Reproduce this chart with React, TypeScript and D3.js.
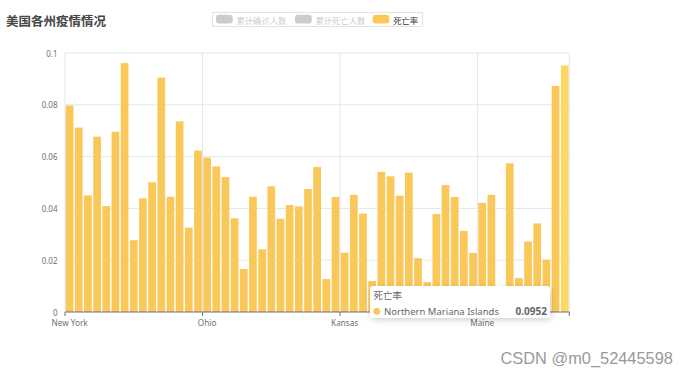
import React from "react";
import * as d3 from "d3";

const states: string[] = [
  "New York", "New Jersey", "Massachusetts", "Pennsylvania", "Illinois", "Michigan", "California",
  "Connecticut", "Florida", "Louisiana", "Georgia", "Texas", "Maryland", "Indiana", "Virginia",
  "Ohio", "Colorado", "Washington", "Rhode Island", "Tennessee", "North Carolina", "Missouri",
  "Arizona", "Alabama", "Wisconsin", "Mississippi", "South Carolina", "Nevada", "Iowa", "Utah",
  "Kansas", "Kentucky", "Delaware", "District of Columbia", "Nebraska", "Minnesota", "Oklahoma",
  "New Mexico", "Oregon", "Arkansas", "South Dakota", "Idaho", "New Hampshire", "Puerto Rico",
  "North Dakota", "Maine", "West Virginia", "Vermont", "Wyoming", "Hawaii", "Montana", "Alaska",
  "Guam", "Virgin Islands", "Northern Mariana Islands",
];

const deathRate: number[] = [
  0.0797, 0.0712, 0.045, 0.0677, 0.0409, 0.0696, 0.0961, 0.0277, 0.0439, 0.0501, 0.0905, 0.0445,
  0.0736, 0.0326, 0.0623, 0.0596, 0.0562, 0.0521, 0.0362, 0.0166, 0.0445, 0.0242, 0.0485, 0.036,
  0.0413, 0.0408, 0.0475, 0.056, 0.0127, 0.0444, 0.0229, 0.0452, 0.038, 0.012, 0.0541, 0.0524,
  0.0449, 0.0538, 0.0208, 0.0115, 0.0378, 0.049, 0.0444, 0.0313, 0.0228, 0.0421, 0.0452, 0,
  0.0574, 0.0131, 0.0272, 0.0342, 0.0202, 0.0873, 0.0952,
];

const yTicks: number[] = [0, 0.02, 0.04, 0.06, 0.08, 0.1];
const yTickLabels: string[] = ["0", "0.02", "0.04", "0.06", "0.08", "0.1"];
const labelEvery = 15;

const legendItems: string[] = ["累计确诊人数", "累计死亡人数", "死亡率"];
const legendActive: boolean[] = [false, false, true];

const title = "美国各州疫情情况";
const highlightIndex = 54;

const W = 692;
const H = 377;
const left = 65;
const right = 569.3;
const top = 53;
const bottom = 312;

const BAR = "#fac858";
const BAR_HI = "#fdd663";
const GRID = "#e0e6f1";
const AXIS = "#6e7079";
const LATIN = "'Noto Sans', 'Noto Sans CJK SC', sans-serif";
const CJK = "'Noto Sans CJK SC', 'Noto Sans', sans-serif";

export default function App() {
  const x = d3.scaleBand<string>().domain(states).range([left, right]).paddingInner(0.16).paddingOuter(0.08);
  const y = d3.scaleLinear().domain([0, 0.1]).range([bottom, top]);
  const boundaries: number[] = [];
  for (let i = 0; i < states.length; i += labelEvery) boundaries.push(i);
  const boundaryX = (i: number) => left + (right - left) * (i / states.length);
  const verticals = [...boundaries.map(boundaryX), right];

  const legendX = [216, 295, 372.7];
  const hiName = states[highlightIndex];
  const hiVal = deathRate[highlightIndex];

  return (
    <svg width={W} height={H} style={{ position: "absolute", left: 0, top: 0, background: "#fff" }}>
      <defs>
        <filter id="tipShadow" x="-20%" y="-40%" width="140%" height="180%">
          <feDropShadow dx="1" dy="2" stdDeviation="3" floodColor="#000" floodOpacity="0.18" />
        </filter>
      </defs>

      {/* title */}
      <text x={6} y={20.5} dominantBaseline="central" fontFamily={CJK} fontSize={12.5} fontWeight="bold" fill="#464646">
        {title}
      </text>

      {/* legend */}
      <rect x={212.5} y={12.5} width={210} height={14} fill="none" stroke="#e3e3e3" strokeWidth={1} />
      {legendItems.map((name, i) => (
        <g key={name}>
          <rect x={legendX[i]} y={14.7} width={16.7} height={8.7} rx={3} fill={legendActive[i] ? BAR : "#cccccc"} />
          <text
            x={legendX[i] + 20.5}
            y={19.5}
            dominantBaseline="central"
            fontFamily={CJK}
            fontSize={8.3}
            fill={legendActive[i] ? "#333" : "#cccccc"}
          >
            {name}
          </text>
        </g>
      ))}

      {/* horizontal grid */}
      {yTicks.map((t) =>
        t === 0 ? null : (
          <line key={"h" + t} x1={left} x2={right} y1={y(t)} y2={y(t)} stroke={GRID} strokeWidth={1} />
        )
      )}
      {/* vertical grid */}
      {verticals.map((vx, i) => (
        <line key={"v" + i} x1={vx} x2={vx} y1={top} y2={bottom} stroke={GRID} strokeWidth={1} />
      ))}

      {/* y labels */}
      {yTicks.map((t, i) => (
        <text key={"yl" + t} x={57.5} y={y(t)} textAnchor="end" dominantBaseline="central" fontFamily={LATIN} fontSize={8} fill={AXIS}>
          {yTickLabels[i]}
        </text>
      ))}

      {/* bars */}
      {states.map((s, i) => (
        <rect
          key={s}
          x={x(s)!}
          y={y(deathRate[i])}
          width={x.bandwidth()}
          height={bottom - y(deathRate[i])}
          fill={i === highlightIndex ? BAR_HI : BAR}
        />
      ))}

      {/* x axis */}
      <line x1={left} x2={right} y1={bottom} y2={bottom} stroke={AXIS} strokeWidth={1} />
      {verticals.map((vx, i) => (
        <line key={"t" + i} x1={vx} x2={vx} y1={bottom} y2={bottom + 4} stroke={AXIS} strokeWidth={1} />
      ))}
      {boundaries.map((i) => (
        <text
          key={"xl" + i}
          x={x(states[i])! + x.bandwidth() / 2}
          y={bottom + 10.5}
          textAnchor="middle"
          dominantBaseline="central"
          fontFamily={LATIN}
          fontSize={8.2}
          fill={AXIS}
        >
          {states[i]}
        </text>
      ))}

      {/* tooltip */}
      <g filter="url(#tipShadow)">
        <rect x={370} y={286} width={180} height={32} rx={3} fill="#fff" />
      </g>
      <text x={373.5} y={295} dominantBaseline="central" fontFamily={CJK} fontSize={9.5} fill="#666">
        死亡率
      </text>
      <circle cx={376.8} cy={311.3} r={3.4} fill={BAR} />
      <text x={384} y={311} dominantBaseline="central" fontFamily={LATIN} fontSize={9.5} fill="#666">
        {hiName}
      </text>
      <text x={547} y={311} textAnchor="end" dominantBaseline="central" fontFamily={LATIN} fontSize={10} fontWeight="bold" fill="#666">
        {hiVal}
      </text>

      {/* watermark */}
      <text x={500.5} y={358} dominantBaseline="central" fontFamily="'Liberation Sans', Arial, sans-serif" fontSize={16.4} fill="#999999">
        CSDN @m0_52445598
      </text>
    </svg>
  );
}
